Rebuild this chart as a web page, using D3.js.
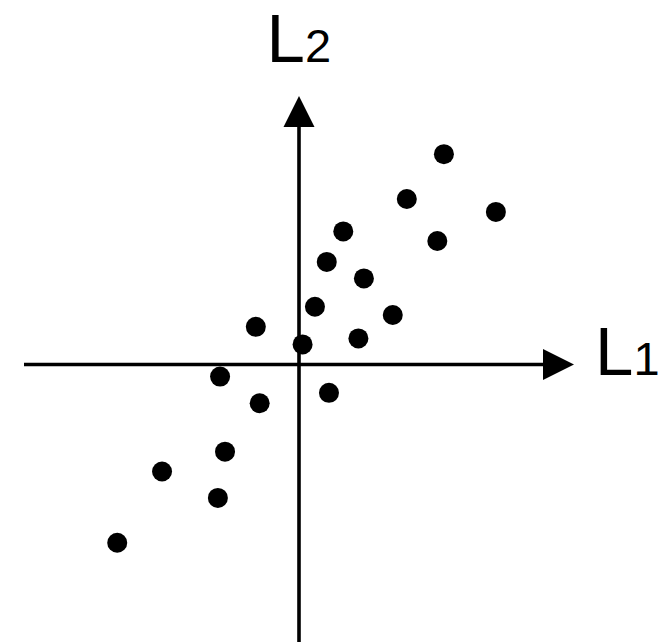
<!DOCTYPE html>
<html>
<head>
<meta charset="utf-8">
<script src="https://cdn.jsdelivr.net/npm/d3@7"></script>
<style>
  html, body { margin: 0; padding: 0; background: #fff; }
  svg { display: block; }
</style>
</head>
<body>
<svg id="chart" width="659" height="642"></svg>
<script>
// Scores of each observation on the two latent dimensions
const l1Scores = [5.27, 3.92, 7.16, 1.61, 5.03, 1.01, 2.36, 0.58, 3.41, 2.16, 0.13, -1.57, -2.87, 1.09, -1.43, -2.69, -4.98, -2.95, -6.61];
const l2Scores = [7.65, 6.02, 5.55, 4.84, 4.49, 3.73, 3.13, 2.10, 1.80, 0.95, 0.73, 1.37, -0.44, -1.03, -1.41, -3.17, -3.89, -4.85, -6.48];

// Axis names: base letter and subscript
const axisNames = [["L", "1"], ["L", "2"]];

// Extent of each drawn axis line (in score units)
const l1Extent = [-10, 10];
const l2Extent = [-10.2, 9.76];

const svg = d3.select("#chart");

const x = d3.scaleLinear().domain([-10, 10]).range([24, 574]);
const y = d3.scaleLinear().domain([-10, 10]).range([639.5, 89.5]);

const stroke = 3.6;
const head = 31;      // arrowhead length
const half = 15.5;    // arrowhead half width

// Horizontal axis (L1)
svg.append("line")
  .attr("x1", x(l1Extent[0])).attr("x2", x(l1Extent[1]) - head + 2)
  .attr("y1", y(0)).attr("y2", y(0))
  .attr("stroke", "#000").attr("stroke-width", stroke);
svg.append("path")
  .attr("d", d3.line()([
    [x(l1Extent[1]), y(0)],
    [x(l1Extent[1]) - head, y(0) - half],
    [x(l1Extent[1]) - head, y(0) + half]
  ]) + "Z")
  .attr("fill", "#000");

// Vertical axis (L2)
svg.append("line")
  .attr("x1", x(0)).attr("x2", x(0))
  .attr("y1", y(l2Extent[0])).attr("y2", y(l2Extent[1]) + head - 2)
  .attr("stroke", "#000").attr("stroke-width", stroke);
svg.append("path")
  .attr("d", d3.line()([
    [x(0), y(l2Extent[1])],
    [x(0) - half, y(l2Extent[1]) + head],
    [x(0) + half, y(l2Extent[1]) + head]
  ]) + "Z")
  .attr("fill", "#000");

// Observations
svg.append("g")
  .selectAll("circle")
  .data(l1Scores.map((v, i) => [v, l2Scores[i]]))
  .join("circle")
  .attr("cx", d => x(d[0]))
  .attr("cy", d => y(d[1]))
  .attr("r", 10)
  .attr("fill", "#000");

// Axis names with subscripts
function axisLabel(name, px, py) {
  const t = svg.append("text")
    .attr("x", px).attr("y", py)
    .attr("font-family", "'Liberation Sans', Arial, sans-serif")
    .attr("fill", "#000");
  t.append("tspan").attr("font-size", 69).text(name[0]);
  t.append("tspan").attr("font-size", 47).text(name[1]);
}
axisLabel(axisNames[0], 595, 375);
axisLabel(axisNames[1], 266.5, 62);
</script>
</body>
</html>
